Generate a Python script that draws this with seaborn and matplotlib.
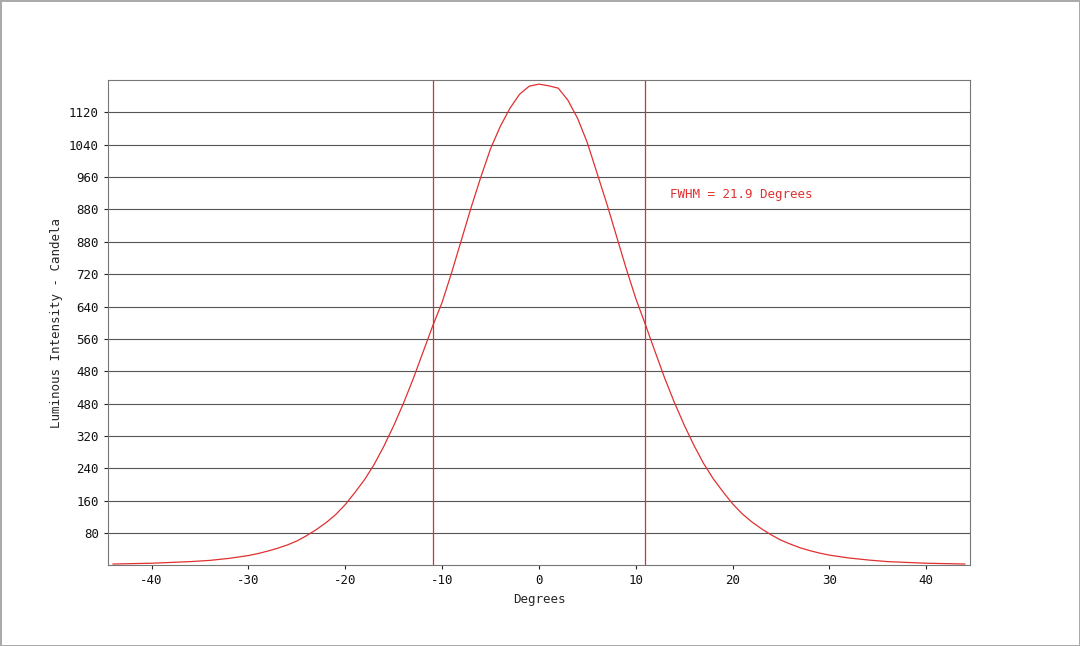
import matplotlib
matplotlib.use("Agg")
import matplotlib.pyplot as plt
import seaborn as sns
import pandas as pd

degrees = [-44,-42,-40,-38,-36,-34,-32,-30,-29,-28,-27,-26,-25,-24,-23,-22,-21,-20,-19,-18,-17,-16,-15,-14,-13,-12,-11,-10,-9,-8,-7,-6,-5,-4,-3,-2,-1,0,
           1,2,3,4,5,6,7,8,9,10,11,12,13,14,15,16,17,18,19,20,21,22,23,24,25,26,27,28,29,30,32,34,36,38,40,42,44]
intensity = [3,4,5,7,9,12,17,24,29,35,42,50,60,73,88,105,125,150,180,212,250,295,345,400,460,525,590,650,725,805,885,960,1030,1085,1130,1165,1185,1190,
             1186,1180,1150,1105,1045,970,895,815,735,660,595,528,462,402,347,297,252,214,182,152,127,107,90,75,62,52,43,36,30,25,18,13,9,7,5,4,3]
ytick_vals = [80,160,240,320,400,480,560,640,720,800,880,960,1040,1120]
ytick_labels = ['80','160','240','320','480','480','560','640','720','880','880','960','1040','1120']
xtick_vals = [-40,-30,-20,-10,0,10,20,30,40]
xtick_labels = ['-40','-30','-20','-10','0','10','20','30','40']
fwhm_lines = [-10.95, 10.95]
annotation = "FWHM = 21.9 Degrees"

sns.set_style("white")
plt.rcParams['font.family'] = ['DejaVu Sans Mono']
fig = plt.figure(figsize=(10.8, 6.46), dpi=100)
fig.patch.set_edgecolor('#aaaaaa'); fig.patch.set_linewidth(2)
ax = fig.add_axes([0.1, 0.125, 0.798, 0.751])
df = pd.DataFrame({'deg': degrees, 'cd': intensity})
sns.lineplot(data=df, x='deg', y='cd', ax=ax, color='#e03030', lw=0.9)
for v in fwhm_lines:
    ax.axvline(v, color='#d03030', lw=0.9)
ax.set_xlim(-44.5, 44.5); ax.set_ylim(0, 1200)
ax.set_yticks(ytick_vals); ax.set_yticklabels(ytick_labels)
ax.set_xticks(xtick_vals); ax.set_xticklabels(xtick_labels)
ax.grid(axis='y', color='#555555', lw=0.8)
for s in ax.spines.values():
    s.set_color('#777777')
ax.tick_params(labelsize=9, length=3, left=True, bottom=True, labelcolor='#111111')
ax.set_xlabel('Degrees', fontsize=9)
ax.set_ylabel('Luminous Intensity - Candela', fontsize=9)
ax.text(13.5, 918, annotation, color='#e03030', fontsize=9, va='center')
fig.savefig('out.png', dpi=100, edgecolor=fig.get_edgecolor())
